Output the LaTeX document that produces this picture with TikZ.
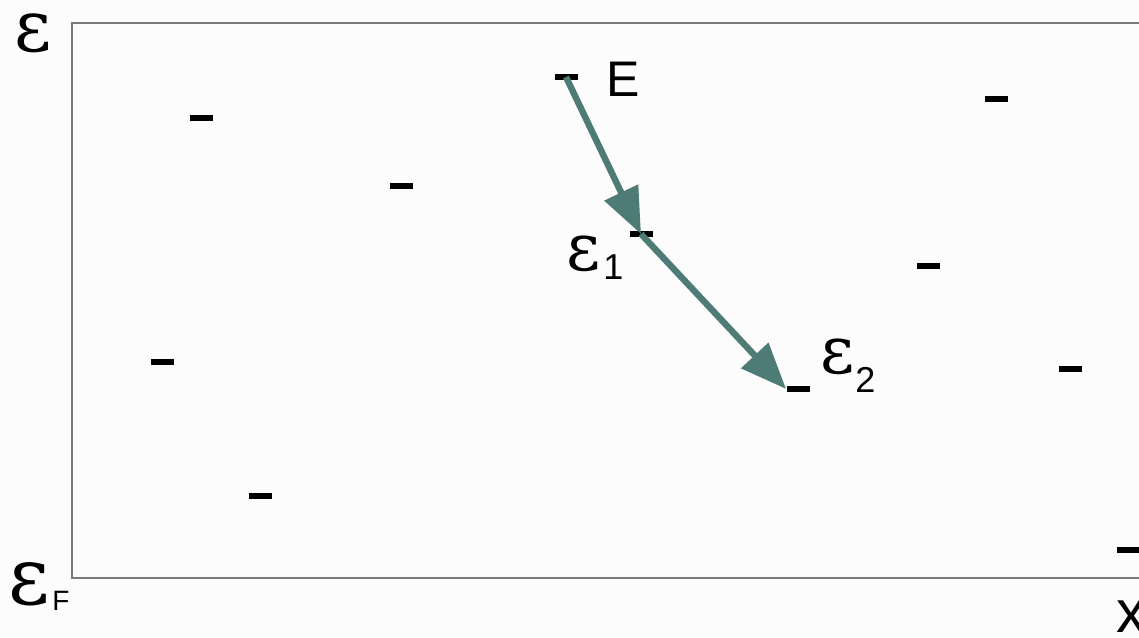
\documentclass[tikz,border=0pt]{standalone}
\usepackage{fontspec}
\setmainfont{Liberation Sans}
\newfontfamily\grk{DejaVu Serif}
\usetikzlibrary{arrows.meta}
\definecolor{arrc}{HTML}{4E7B76}
\definecolor{framec}{HTML}{7A7A7A}
\tikzset{
  lvl/.style={fill=black,inner sep=0pt,minimum width=11.5pt,minimum height=2.6pt},
  arr/.style={draw=arrc,line width=3.2pt,-{Triangle[length=23pt,width=18pt]}},
  eps/.style={inner sep=0pt,anchor=base west,text height=0.55em,text depth=0pt,font=\grk\fontsize{36}{36}\selectfont},
  sub/.style={inner sep=0pt,anchor=base west,font=\fontsize{18}{18}\selectfont},
  lab/.style={inner sep=0pt,anchor=base west,font=\fontsize{25}{25}\selectfont}
}
\begin{document}
\begin{tikzpicture}[x=0.5pt,y=-0.5pt]
\fill[white!99!black] (0,0) rectangle (1139,637);
\useasboundingbox (0,0) rectangle (1139,637);
% frame
\coordinate (tr) at (1139,23);
\coordinate (tl) at (72,23);
\coordinate (bl) at (72,578);
\coordinate (br) at (1139,578);
\draw[framec,line width=1pt] (tr) -- (tl) -- (bl) -- (br);
% levels
\node[lvl] (E) at (566,77) {};
\node[lvl] (a) at (201,118) {};
\node[lvl] (b) at (401,186) {};
\node[lvl] (e1) at (641,234) {};
\node[lvl] (c) at (996,99) {};
\node[lvl] (d) at (928,266) {};
\node[lvl] (f) at (162,362) {};
\node[lvl] (e2) at (798,389) {};
\node[lvl] (g) at (1070,369) {};
\node[lvl] (h) at (260,496) {};
\node[lvl] (k) at (1128,550) {};
% arrows
\draw[arr] (E.center) -- (e1.center);
\draw[arr] (e1.center) -- (e2.west);
% labels
\node[lab] (lE) at (606,96) {E};
\node[eps] (ly) at (14,51) {ε};
\node[eps,font=\grk\fontsize{40}{40}\selectfont] (lF) at (8,604) {ε};
\node[sub,font=\fontsize{14}{14}\selectfont] (lFs) at (52,610) {F};
\node[eps,font=\grk\fontsize{33}{33}\selectfont] (l1) at (566,270) {ε};
\node[sub] (l1s) at (603,279) {1};
\node[eps,font=\grk\fontsize{33}{33}\selectfont] (l2) at (820,373) {ε};
\node[sub] (l2s) at (855,392) {2};
\node[inner sep=0pt,anchor=base west,font=\fontsize{30}{30}\selectfont] (lx) at (1116,632) {x};
\end{tikzpicture}
\end{document}
